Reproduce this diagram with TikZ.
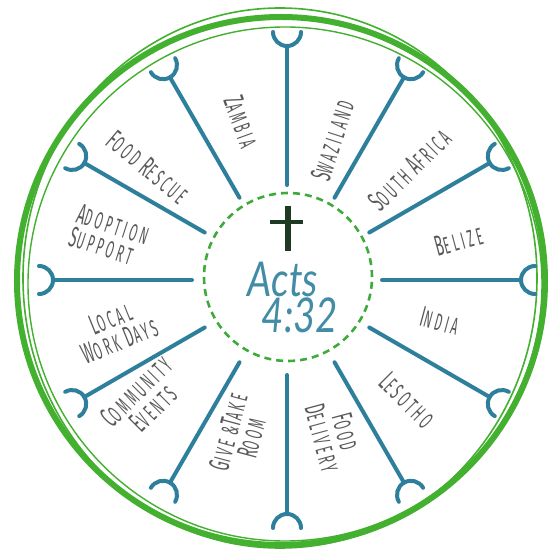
\documentclass[tikz,border=0pt]{standalone}
\usepackage{fontspec}
\newfontfamily\hand{Fira Sans}[FakeStretch=0.48,LetterSpace=13]
\newfontfamily\versefont{Lato}[FakeStretch=0.8]
\definecolor{spokeblue}{HTML}{2E7F9B}
\definecolor{ringgreen}{HTML}{43B02F}
\definecolor{dashgreen}{HTML}{3DAA3A}
\definecolor{crossgreen}{HTML}{1E3A22}
\tikzstyle{spoke}=[draw=spokeblue, line width=4pt, line cap=round]
\tikzstyle{ring}=[draw=ringgreen]
\tikzstyle{sector}=[text=black!65, font=\hand\fontsize{24}{24}\selectfont, align=center, inner sep=0pt]
\tikzstyle{verseline}=[text=spokeblue!90, font=\versefont\itshape\fontsize{48}{40}\selectfont, inner sep=0pt]
\newcommand\capit[1]{{\fontsize{29}{24}\selectfont #1}}

\begin{document}
\begin{tikzpicture}[x=1pt, y=1pt]
	\useasboundingbox [fill=white] (-287,-274) rectangle (264,280);
	% outer ring
	\draw [style=ring, line width=6pt] (-6,-1) circle [radius=264];
	\draw [style=ring, line width=1.6pt] (-7,2) ellipse [x radius=257, y radius=270];
	\draw [style=ring, line width=1.4pt] (-2,-4) circle [radius=257];
	% centre
	\draw [dashgreen, line width=2.6pt, dash pattern=on 7pt off 5pt] (1,3) circle [radius=84];
	\coordinate (crosstop) at (1,74);
	\coordinate (crossfoot) at (1,29);
	\coordinate (crossleft) at (-17,58);
	\coordinate (crossright) at (16,58);
	\draw [crossgreen, line width=5.5pt] (crosstop) -- (crossfoot);
	\draw [crossgreen, line width=4.5pt] (crossleft) -- (crossright);
	\node [style=verseline] (acts) at (-4,1) {Acts};
	\node [style=verseline] (chapter) at (13,-35) {4:32};
	% spokes
	\foreach \a [count=\i, evaluate=\a as \b using \a+90, evaluate=\a as \c using \a+270] in {0,30,...,330} {
		\coordinate (in\i) at (\a:95);
		\coordinate (out\i) at (\a:234);
		\draw [style=spoke] (in\i) to (out\i);
		\draw [style=spoke] (out\i) ++(\a:14) ++(\b:14) arc [start angle=\b, end angle=\c, radius=14];
	}
	% labels
	\node [style=sector, rotate=-70] (zambia) at (106:165) {\capit{Z}AMBIA};
	\node [style=sector, rotate=72] (swaziland) at (72:147) {\capit{S}WAZILAND};
	\node [style=sector, rotate=45] (southafrica) at (42:165) {\capit{S}OUTH \capit{A}FRICA};
	\node [style=sector, rotate=15] (belize) at (13:176) {\capit{B}ELIZE};
	\node [style=sector, rotate=-15] (india) at (-15:158) {\capit{I}NDIA};
	\node [style=sector, rotate=-45] (lesotho) at (-45:170) {\capit{L}ESOTHO};
	\node [style=sector, rotate=-75] (fooddelivery) at (-73:162) {\capit{F}OOD\\\capit{D}ELIVERY};
	\node [style=sector, rotate=75] (giveroom) at (253:162) {\capit{G}IVE \&\capit{T}AKE\\\capit{R}OOM};
	\node [style=sector, rotate=45] (community) at (220:186) {\capit{C}OMMUNITY\\\capit{E}VENTS};
	\node [style=sector, rotate=22] (localwork) at (196:179) {\capit{L}OCAL\\\capit{W}ORK \capit{D}AYS};
	\node [style=sector, rotate=-18, align=left] (adoption) at (166:183) {\capit{A}DOPTION\\\capit{S}UPPORT};
	\node [style=sector, rotate=-40] (foodrescue) at (141:179) {\capit{F}OOD \capit{R}ESCUE};
\end{tikzpicture}
\end{document}
